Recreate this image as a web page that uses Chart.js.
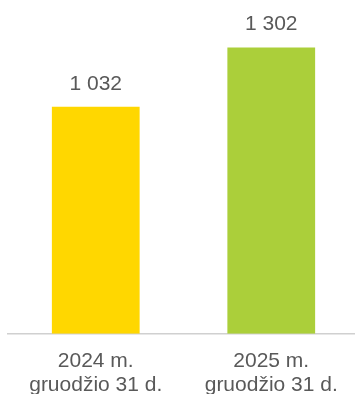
<!DOCTYPE html>
<html>
<head>
<meta charset="utf-8">
<script src="https://cdn.jsdelivr.net/npm/chart.js@4.4.1/dist/chart.umd.min.js"></script>
<style>
  html, body { margin: 0; padding: 0; background: #fff; overflow: hidden; }
  #wrap { width: 355px; height: 394px; overflow: hidden; }
</style>
</head>
<body>
<div id="wrap"><canvas id="myChart" width="359" height="412"></canvas></div>
<script>
const categories = [
  ["2024 m.", "gruodžio 31 d."],
  ["2025 m.", "gruodžio 31 d."],
];
const values = [1032, 1302];
const barColors = ["#FFD700", "#ABCF3A"];

// skaičius su tarpu tūkstančiams
function fmt(v) {
  return String(v).replace(/\B(?=(\d{3})+(?!\d))/g, " ");
}

const valueLabels = {
  id: "valueLabels",
  afterDatasetsDraw(chart) {
    const ctx = chart.ctx;
    const meta = chart.getDatasetMeta(0);
    ctx.save();
    ctx.font = "21px 'Liberation Sans', Arial, sans-serif";
    ctx.fillStyle = "#595959";
    ctx.textAlign = "center";
    ctx.textBaseline = "middle";
    meta.data.forEach((bar, i) => {
      ctx.fillText(fmt(values[i]), bar.x, bar.y - 23);
    });
    ctx.restore();
  },
};

const ctx = document.getElementById("myChart").getContext("2d");
new Chart(ctx, {
  type: "bar",
  data: {
    labels: categories,
    datasets: [
      {
        data: values,
        backgroundColor: barColors,
        borderWidth: 0,
        categoryPercentage: 1,
        barPercentage: 0.5,
      },
    ],
  },
  plugins: [valueLabels],
  options: {
    responsive: false,
    animation: false,
    layout: { padding: { left: 8, top: 0, right: 0, bottom: 0 } },
    plugins: {
      legend: { display: false },
      tooltip: { enabled: false },
    },
    scales: {
      x: {
        grid: { display: false, drawTicks: false },
        border: { display: true, color: "#d0d0d0", width: 1.5 },
        ticks: {
          color: "#595959",
          padding: 15,
          maxRotation: 0,
          font: { family: "'Liberation Sans', Arial, sans-serif", size: 21, lineHeight: 1.15 },
        },
      },
      y: {
        display: false,
        min: 0,
        max: 1518,
      },
    },
  },
});
</script>
</body>
</html>
